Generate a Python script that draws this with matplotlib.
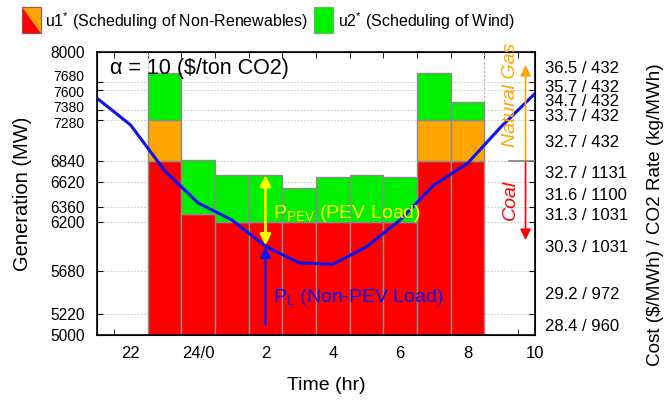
import numpy as np
import matplotlib.pyplot as plt
from matplotlib.patches import Polygon, Rectangle
from matplotlib.transforms import ScaledTranslation

plt.rcParams['font.family'] = ['Liberation Sans', 'DejaVu Sans']
plt.rcParams['mathtext.fontset'] = 'custom'
plt.rcParams['mathtext.rm'] = 'Liberation Sans'
plt.rcParams['mathtext.it'] = 'Liberation Sans:italic'

# hourly schedule, 23:00 .. 8:00 (hours counted past midnight as 24+)
hours = [23, 24, 25, 26, 27, 28, 29, 30, 31, 32]
coal = [6840, 6280, 6200, 6200, 6200, 6200, 6200, 6200, 6840, 6840]
gas = [440, 0, 0, 0, 0, 0, 0, 0, 440, 440]
wind = [495, 575, 495, 495, 355, 480, 495, 470, 495, 195]

# non-PEV load
load_hours = [21, 22, 23, 24, 25, 26, 27, 28, 29, 30, 31, 32, 33, 34]
load = [7510, 7225, 6745, 6400, 6220, 5940, 5765, 5750, 5935, 6220, 6590, 6820, 7210, 7560]

xticks = [22, 24, 26, 28, 30, 32, 34]
xtick_labels = ['22', '24/0', '2', '4', '6', '8', '10']
yticks = [5000, 5220, 5680, 6200, 6360, 6620, 6840, 7280, 7380, 7600, 7680, 8000]
cost_labels = ['28.4 / 960', '29.2 / 972', '30.3 / 1031', '31.3 / 1031', '31.6 / 1100',
               '32.7 / 1131', '32.7 / 432', '33.7 / 432', '34.7 / 432', '35.7 / 432',
               '36.5 / 432']

RED = '#ff0000'
ORANGE = '#ffa500'
GREEN = '#00f000'
EDGE = '#8c8c8c'

fig = plt.figure(figsize=(6.68, 4.01), dpi=100)
ax = fig.add_axes([97 / 668, 1 - 335 / 401, 438 / 668, 283 / 401])

coal = np.array(coal)
gas = np.array(gas)
wind = np.array(wind)

ax.bar(hours, coal, width=1, color=RED, edgecolor=EDGE, linewidth=1, zorder=2)
ax.bar(hours, gas, bottom=coal, width=1, color=ORANGE, edgecolor=EDGE,
       linewidth=[1 if g > 0 else 0 for g in gas], zorder=2)
ax.bar(hours, wind, bottom=coal + gas, width=1, color=GREEN, edgecolor=EDGE,
       linewidth=1, zorder=2)
ax.plot(load_hours, load, color='#0a14f0', lw=2.2, zorder=4)

ax.set_xlim(21, 34)
ax.set_ylim(5000, 8000)
ax.set_xticks(xticks)
ax.set_xticklabels(xtick_labels, fontsize=12)
ax.set_xticks(np.arange(21.5, 34, 1.0), minor=True)
ax.tick_params(axis='x', which='major', length=0, pad=8)
ax.tick_params(axis='x', which='minor', direction='in', length=4, top=True, bottom=True)
ax.set_yticks(yticks)
ax.set_yticklabels([str(v) for v in yticks], fontsize=11.2)
ax.tick_params(axis='y', which='major', direction='in', length=4, pad=9)

# the four labels near the top sit close together: smaller and spread out
# (offsets in pixels at 100 dpi)
shifts = {'7680': 6.5, '7600': -1.3, '7380': 4.0, '7280': -2.6}
for lab in ax.get_yticklabels():
    t = lab.get_text()
    if t in shifts:
        lab.set_fontsize(10)
        lab.set_transform(lab.get_transform() +
                          ScaledTranslation(0, shifts[t] / 100, fig.dpi_scale_trans))

ax.set_axisbelow(True)
ax.grid(axis='y', color='#cdcdcd', linestyle=(0, (1.5, 1.5)), lw=0.8, zorder=0)
for xv in (hours[0] - 0.5, hours[-1] + 0.5):
    ax.axvline(xv, color='#b4b4b4', linestyle=(0, (1.5, 1.5)), lw=1, zorder=1)

for s in ax.spines.values():
    s.set_linewidth(1.2)

# right axis: cost / CO2 rate for each generation band
ax2 = ax.twinx()
ax2.set_ylim(5000, 8000)
ax2.set_yticks(yticks)
ax2.set_yticklabels([])
ax2.tick_params(axis='y', which='major', direction='in', length=4)
mids = [(a + b) / 2 for a, b in zip(yticks[:-1], yticks[1:])]
ax2.set_yticks(mids, minor=True)
ax2.set_yticklabels(cost_labels, minor=True, fontsize=12)
ax2.tick_params(axis='y', which='minor', length=0, pad=7)
ax2.plot([33.24, 34], [6840, 6840], color='#808080', lw=1.2, clip_on=False)

ax.text(21.38, 7830, 'α = 10 ($/ton CO2)', fontsize=15.5, ha='left', va='center', zorder=5)

# PEV load arrow and label
ax.annotate('', xy=(26, 6695), xytext=(26, 5950),
            arrowprops=dict(arrowstyle='<|-|>', color='#ffff00', lw=2,
                            mutation_scale=16, shrinkA=0, shrinkB=0), zorder=5)
ax.text(26.22, 6237, r'$\mathregular{P_{PEV}}$ (PEV Load)', color='#ffff00',
        fontsize=14, ha='left', va='baseline', zorder=5)

ax.annotate('', xy=(26, 5935), xytext=(26, 5105),
            arrowprops=dict(arrowstyle='-|>', color='#0a14f0', lw=1.5,
                            mutation_scale=16, shrinkA=0, shrinkB=0), zorder=5)
ax.text(26.22, 5353, r'$\mathregular{P_L}$ (Non-PEV Load)', color='#0a14f0',
        fontsize=14, ha='left', va='baseline', zorder=5)

# fuel bands on the right
ax.annotate('', xy=(33.72, 7862), xytext=(33.72, 6840), annotation_clip=False,
            arrowprops=dict(arrowstyle='-|>', color=ORANGE, lw=1.2,
                            mutation_scale=16, shrinkA=0, shrinkB=0), zorder=5)
ax.annotate('', xy=(33.72, 6007), xytext=(33.72, 6840),
            arrowprops=dict(arrowstyle='-|>', color=RED, lw=1.2,
                            mutation_scale=16, shrinkA=0, shrinkB=0), zorder=5)
ax.text(33.27, 7540, 'Natural Gas', color=ORANGE, fontsize=14, style='italic',
        rotation=90, ha='center', va='center', zorder=5, clip_on=False)
ax.text(33.27, 6430, 'Coal', color=RED, fontsize=14, style='italic',
        rotation=90, ha='center', va='center', zorder=5)

# axis titles
fig.text(22 / 668, 1 - 194 / 401, 'Generation (MW)', rotation=90, fontsize=14.5,
         ha='center', va='center')
fig.text(655 / 668, 1 - 215 / 401, 'Cost ($/MWh) / CO2 Rate (kg/MWh)', rotation=90,
         fontsize=13.6, ha='center', va='center')
fig.text(326 / 668, 1 - 386 / 401, 'Time (hr)', fontsize=14, ha='center', va='center')

# legend
W, H = 668, 401
x0, y0, w, h = 22, 7, 19, 26
tl = (x0 / W, 1 - y0 / H)
tr = ((x0 + w) / W, 1 - y0 / H)
bl = (x0 / W, 1 - (y0 + h) / H)
br = ((x0 + w) / W, 1 - (y0 + h) / H)
fig.patches.append(Polygon([tl, tr, br], closed=True, facecolor=ORANGE,
                           edgecolor='none', transform=fig.transFigure))
fig.patches.append(Polygon([tl, bl, br], closed=True, facecolor=RED,
                           edgecolor='none', transform=fig.transFigure))
fig.patches.append(Rectangle(bl, w / W, h / H, facecolor='none', edgecolor='#a05050',
                             lw=0.8, transform=fig.transFigure))
fig.patches.append(Rectangle((314 / W, 1 - (y0 + h) / H), w / W, h / H, facecolor=GREEN,
                             edgecolor='#60c060', lw=0.8, transform=fig.transFigure))
fig.text(45 / W, 1 - 21 / H, r'u1$^{\mathregular{*}}$ (Scheduling of Non-Renewables)',
         fontsize=11.5, ha='left', va='center')
fig.text(338 / W, 1 - 21 / H, r'u2$^{\mathregular{*}}$ (Scheduling of Wind)',
         fontsize=11.5, ha='left', va='center')

fig.savefig('out.png', dpi=100)
